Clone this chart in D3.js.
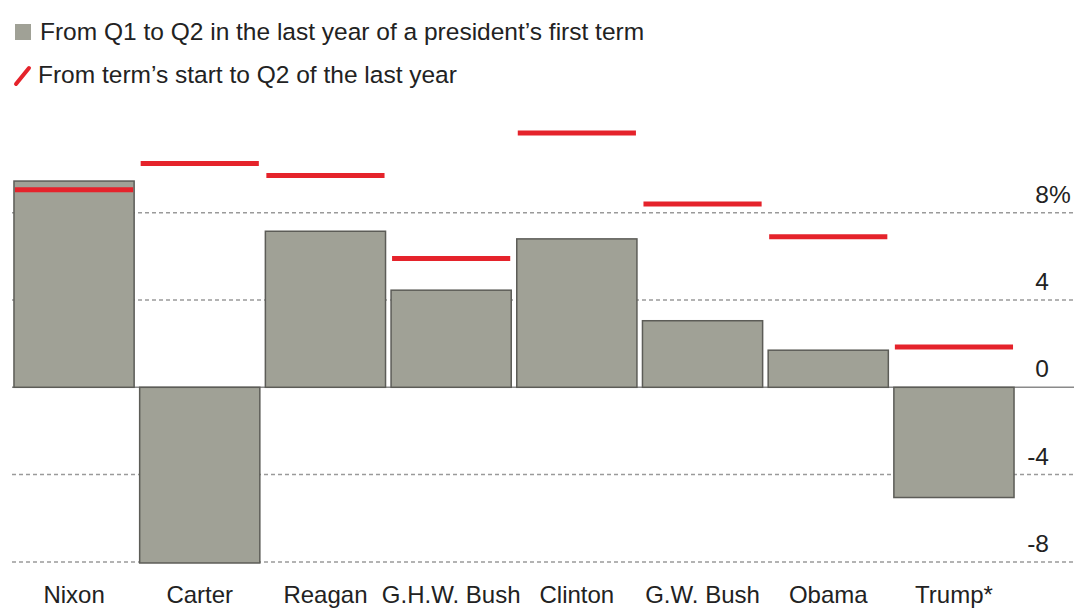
<!DOCTYPE html>
<html>
<head>
<meta charset="utf-8">
<script src="https://cdn.jsdelivr.net/npm/d3@7"></script>
<style>
  html, body { margin: 0; padding: 0; background: #fff; }
  svg { display: block; font-family: "Liberation Sans", Arial, sans-serif; }
</style>
</head>
<body>
<svg id="chart" width="1074" height="609"></svg>
<script>
// ---- data ----
const presidents = ["Nixon", "Carter", "Reagan", "G.H.W. Bush", "Clinton", "G.W. Bush", "Obama", "Trump*"];
const q1ToQ2 = [9.45, -8.05, 7.15, 4.45, 6.8, 3.05, 1.7, -5.05];
const termToQ2 = [9.05, 10.25, 9.7, 5.9, 11.65, 8.4, 6.9, 1.85];
const yTicks = [8, 4, 0, -4, -8];
const legendLabels = ["From Q1 to Q2 in the last year of a president\u2019s first term", "From term\u2019s start to Q2 of the last year"];

// ---- setup ----
const svg = d3.select("#chart");
const W = 1074, H = 609;
const FS = 24.5;
const barFill = "#a0a196", barStroke = "#5c5c57", red = "#e5232b", ink = "#222";

const x = d3.scaleBand().domain(presidents).range([11.2, 1016.8]).paddingInner(0.044).paddingOuter(0.022);
const y = d3.scaleLinear().domain([-8, 8]).range([561.9, 212.7]);

// gridlines
svg.append("g").selectAll("line").data(yTicks.filter(d => d !== 0)).join("line")
  .attr("x1", 12).attr("x2", W)
  .attr("y1", d => y(d)).attr("y2", d => y(d))
  .attr("stroke", "#9a9a9a").attr("stroke-width", 1.5).attr("stroke-dasharray", "4,3");

// zero line
svg.append("line").attr("x1", 12).attr("x2", W).attr("y1", y(0)).attr("y2", y(0))
  .attr("stroke", "#8a8a8a").attr("stroke-width", 1.5);

// bars
svg.append("g").selectAll("rect").data(presidents).join("rect")
  .attr("x", d => x(d))
  .attr("width", x.bandwidth())
  .attr("y", (d, i) => y(Math.max(0, q1ToQ2[i])))
  .attr("height", (d, i) => Math.abs(y(q1ToQ2[i]) - y(0)))
  .attr("fill", barFill).attr("stroke", barStroke).attr("stroke-width", 1.5);

// red markers
svg.append("g").selectAll("line").data(presidents).join("line")
  .attr("x1", d => x(d) + 1).attr("x2", d => x(d) + x.bandwidth() - 1)
  .attr("y1", (d, i) => y(termToQ2[i])).attr("y2", (d, i) => y(termToQ2[i]))
  .attr("stroke", red).attr("stroke-width", 5);

// y tick labels
const yl = svg.append("g");
yl.selectAll("text.num").data(yTicks).join("text")
  .attr("class", "num")
  .attr("x", 1049).attr("y", d => y(d) - 10)
  .attr("text-anchor", "end")
  .attr("font-size", FS).attr("fill", ink)
  .text(d => d);
yl.append("text").attr("x", 1049).attr("y", y(yTicks[0]) - 10)
  .attr("font-size", FS).attr("fill", ink).text("%");

// x labels
const xAxis = d3.axisBottom(x).tickSize(0).tickPadding(0);
const xg = svg.append("g").attr("transform", "translate(0,603)").call(xAxis);
xg.select(".domain").remove();
xg.selectAll("text").attr("font-size", 24).attr("fill", ink)
  .attr("font-family", "Liberation Sans, Arial, sans-serif")
  .attr("dy", "0");

// legend
const lg = svg.append("g");
lg.append("rect").attr("x", 15).attr("y", 24).attr("width", 16).attr("height", 16).attr("fill", barFill);
lg.append("text").attr("x", 40).attr("y", 40).attr("font-size", FS).attr("fill", ink).text(legendLabels[0]);
lg.append("line").attr("x1", 16).attr("y1", 84).attr("x2", 29).attr("y2", 68)
  .attr("stroke", red).attr("stroke-width", 4).attr("stroke-linecap", "round");
lg.append("text").attr("x", 38).attr("y", 83).attr("font-size", FS).attr("fill", ink).text(legendLabels[1]);
</script>
</body>
</html>
